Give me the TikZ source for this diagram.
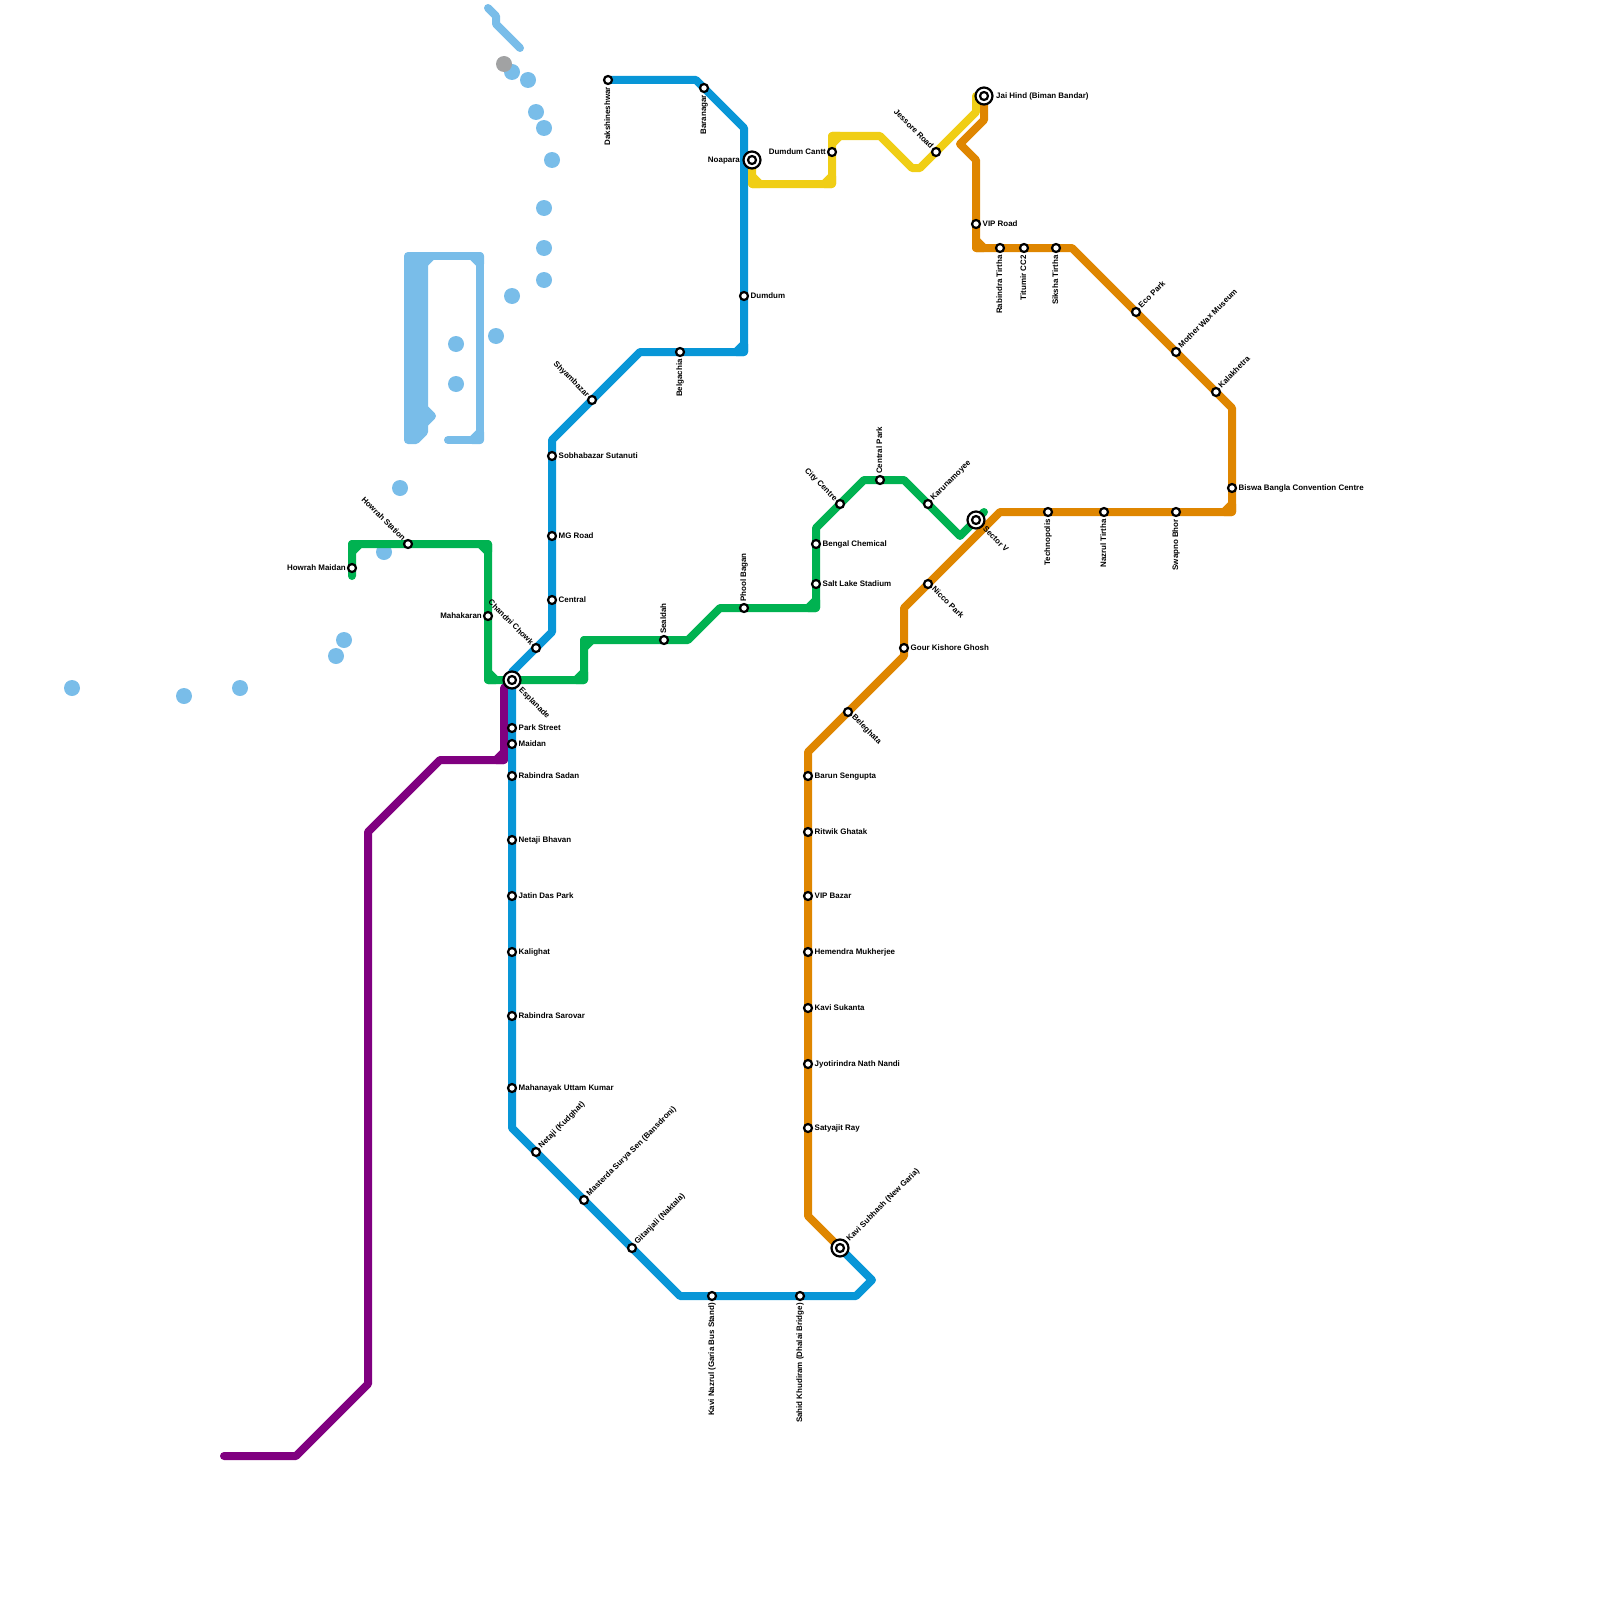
\documentclass[tikz,border=0pt]{standalone}
\usepackage{fontspec}
\setmainfont{Liberation Sans}
\usepackage{tikz}
\definecolor{metroblue}{HTML}{0896D7}
\definecolor{metrogreen}{HTML}{00B251}
\definecolor{metroyellow}{HTML}{F0CE15}
\definecolor{metroorange}{HTML}{DF8600}
\definecolor{metropurple}{HTML}{800080}
\definecolor{metrosky}{HTML}{79BDE9}
\definecolor{metrogrey}{HTML}{A1A2A3}
\tikzset{
  metroline/.style={line width=8pt, line join=round, line cap=round},
  stn/.style={circle, draw=black, fill=white, line width=2.2pt, minimum size=8pt, inner sep=0pt},
  hubouter/.style={circle, draw=black, fill=white, line width=2.2pt, minimum size=17pt, inner sep=0pt},
  lbl/.style={font=\bfseries\fontsize{7.95}{8}\selectfont, inner sep=0pt, text height=6pt, text depth=1.6pt},
  lble/.style={lbl, anchor=west},
  lblw/.style={lbl, anchor=east},
  lbls/.style={lbl, rotate=90, anchor=east},
  lbln/.style={lbl, rotate=90, anchor=west},
  lblne/.style={lbl, rotate=45, anchor=west},
  lblnw/.style={lbl, rotate=-45, anchor=east},
  lblse/.style={lbl, rotate=-45, anchor=west}
}
\begin{document}
\begin{tikzpicture}[x=1pt, y=-1pt]
  \useasboundingbox (0,0) rectangle (1600,1600);

  % Linea celeste
  \draw[metroline, metrosky] (488,8) -- (496,16) -- (496,24) -- (520,48);
  \draw[metroline, metrosky] (448,440) -- (480,440) -- (480,256) -- (424,256);
  \fill[metrosky] (408,256) -- (424,256) -- (424,408) -- (432,416) -- (424,424)
    -- (424,432) -- (416,440) -- (408,440) -- cycle;
  \draw[metroline, metrosky] (408,256) -- (424,256) -- (424,408) -- (432,416) -- (424,424)
    -- (424,432) -- (416,440) -- (408,440) -- cycle;
  \foreach \x/\y/\dx/\dy in {480/440/-8/-8, 480/256/-8/8, 424/256/8/8}{
    \draw[metroline, metrosky] (\x+\dx,\y) -- (\x,\y) -- (\x,\y+\dy) -- cycle;
  }
  \foreach \x/\y in {512/72, 528/80, 536/112, 544/128, 552/160, 544/208, 544/248, 544/280,
    512/296, 496/336, 456/344, 456/384, 400/488, 384/552, 344/640, 336/656, 240/688,
    184/696, 72/688}{
    \fill[metrosky] (\x,\y) circle (8pt);
  }
  \fill[metrogrey] (504,64) circle (8pt);

  % Linea morada
  \draw[metroline, metropurple] (512,680) -- (504,688) -- (504,760) -- (440,760) -- (368,832)
    -- (368,1384) -- (296,1456) -- (224,1456);
  \draw[metroline, metropurple] (496,760) -- (504,760) -- (504,752) -- cycle;

  % Linea verde
  \draw[metroline, metrogreen] (352,576) -- (352,544) -- (488,544) -- (488,680) -- (584,680)
    -- (584,640) -- (688,640) -- (720,608) -- (816,608) -- (816,528) -- (864,480)
    -- (904,480) -- (960,536) -- (984,512);
  \foreach \x/\y/\dx/\dy in {352/544/8/8, 488/544/-8/8, 488/680/8/-8, 584/680/-8/-8,
    584/640/8/8, 816/608/-8/-8}{
    \draw[metroline, metrogreen] (\x+\dx,\y) -- (\x,\y) -- (\x,\y+\dy) -- cycle;
  }

  % Linea azul
  \draw[metroline, metroblue] (608,80) -- (696,80) -- (744,128) -- (744,352) -- (640,352)
    -- (552,440) -- (552,632) -- (512,672) -- (512,1128) -- (680,1296) -- (856,1296)
    -- (872,1280) -- (840,1248);
  \draw[metroline, metroblue] (736,352) -- (744,352) -- (744,344) -- cycle;

  % Linea amarilla
  \draw[metroline, metroyellow] (752,160) -- (752,184) -- (832,184) -- (832,136) -- (880,136)
    -- (912,168) -- (920,168) -- (976,112) -- (976,96) -- (984,96);
  \foreach \x/\y/\dx/\dy in {752/184/8/-8, 832/184/-8/-8, 832/136/8/8}{
    \draw[metroline, metroyellow] (\x+\dx,\y) -- (\x,\y) -- (\x,\y+\dy) -- cycle;
  }

  % Linea naranja
  \draw[metroline, metroorange] (840,1248) -- (808,1216) -- (808,752) -- (904,656) -- (904,608)
    -- (1000,512) -- (1232,512) -- (1232,408) -- (1072,248) -- (976,248) -- (976,160)
    -- (960,144) -- (984,120) -- (984,96);
  \foreach \x/\y/\dx/\dy in {976/248/8/-8, 1232/512/-8/-8}{
    \draw[metroline, metroorange] (\x+\dx,\y) -- (\x,\y) -- (\x,\y+\dy) -- cycle;
  }

  % Estaciones: etiqueta a la derecha
  \foreach \x/\y/\t in {744/296/Dumdum, 552/456/Sobhabazar Sutanuti, 552/536/MG Road,
    552/600/Central, 512/728/Park Street, 512/744/Maidan, 512/776/Rabindra Sadan,
    512/840/Netaji Bhavan, 512/896/Jatin Das Park, 512/952/Kalighat,
    512/1016/Rabindra Sarovar, 512/1088/Mahanayak Uttam Kumar, 808/1128/Satyajit Ray,
    808/1064/Jyotirindra Nath Nandi, 808/1008/Kavi Sukanta, 808/952/Hemendra Mukherjee,
    808/896/VIP Bazar, 808/832/Ritwik Ghatak, 808/776/Barun Sengupta,
    904/648/Gour Kishore Ghosh, 1232/488/Biswa Bangla Convention Centre, 976/224/VIP Road,
    816/584/Salt Lake Stadium, 816/544/Bengal Chemical}{
    \node[stn] (st\x-\y) at (\x,\y) {};
    \node[lble] (lb\x-\y) at (\x+6.5,\y) {\t};
  }
  % a la izquierda
  \foreach \x/\y/\t in {832/152/Dumdum Cantt, 352/568/Howrah Maidan, 488/616/Mahakaran}{
    \node[stn] (st\x-\y) at (\x,\y) {};
    \node[lblw] (lb\x-\y) at (\x-6,\y) {\t};
  }
  % abajo
  \foreach \x/\y/\t in {608/80/Dakshineshwar, 704/88/Baranagar, 680/352/Belgachia,
    712/1296/Kavi Nazrul (Garia Bus Stand), 800/1296/Sahid Khudiram (Dhalai Bridge),
    1048/512/Technopolis, 1104/512/Nazrul Tirtha, 1176/512/Swapno Bhor,
    1056/248/Siksha Tirtha, 1024/248/Titumir CC2, 1000/248/Rabindra Tirtha}{
    \node[stn] (st\x-\y) at (\x,\y) {};
    \node[lbls] (lb\x-\y) at (\x,\y+7) {\t};
  }
  % arriba
  \foreach \x/\y/\t in {664/640/Sealdah, 744/608/Phool Bagan, 880/480/Central Park}{
    \node[stn] (st\x-\y) at (\x,\y) {};
    \node[lbln] (lb\x-\y) at (\x,\y-6) {\t};
  }
  % diagonal arriba derecha
  \foreach \x/\y/\t in {536/1152/Netaji (Kudghat), 584/1200/Masterda Surya Sen (Bansdroni),
    632/1248/Gitanjali (Naktala), 1216/392/Kalakhetra, 1176/352/Mother Wax Museum,
    1136/312/Eco Park, 928/504/Karunamoyee}{
    \node[stn] (st\x-\y) at (\x,\y) {};
    \node[lblne] (lb\x-\y) at (\x+4,\y-5) {\t};
  }
  % diagonal arriba izquierda
  \foreach \x/\y/\t in {592/400/Shyambazar, 536/648/Chandni Chowk, 936/152/Jessore Road,
    408/544/Howrah Station, 840/504/City Centre}{
    \node[stn] (st\x-\y) at (\x,\y) {};
    \node[lblnw] (lb\x-\y) at (\x-4,\y-4) {\t};
  }
  % diagonal abajo derecha
  \foreach \x/\y/\t in {848/712/Beleghata, 928/584/Nicco Park}{
    \node[stn] (st\x-\y) at (\x,\y) {};
    \node[lblse] (lb\x-\y) at (\x+5,\y+4) {\t};
  }

  % Intercambiadores
  \foreach \x/\y in {512/680, 752/160, 840/1248, 976/520, 984/96}{
    \node[hubouter] (hub\x-\y) at (\x,\y) {};
    \node[stn] (st\x-\y) at (\x,\y) {};
  }
  \node[lblse] (lbesplanade) at (520,689) {Esplanade};
  \node[lblw] (lbnoapara) at (740,160) {Noapara};
  \node[lblne] (lbkavisubhash) at (848,1240) {Kavi Subhash (New Garia)};
  \node[lblse] (lbsectorv) at (984,528) {Sector V};
  \node[lble] (lbjaihind) at (996,96) {Jai Hind (Biman Bandar)};
\end{tikzpicture}
\end{document}
